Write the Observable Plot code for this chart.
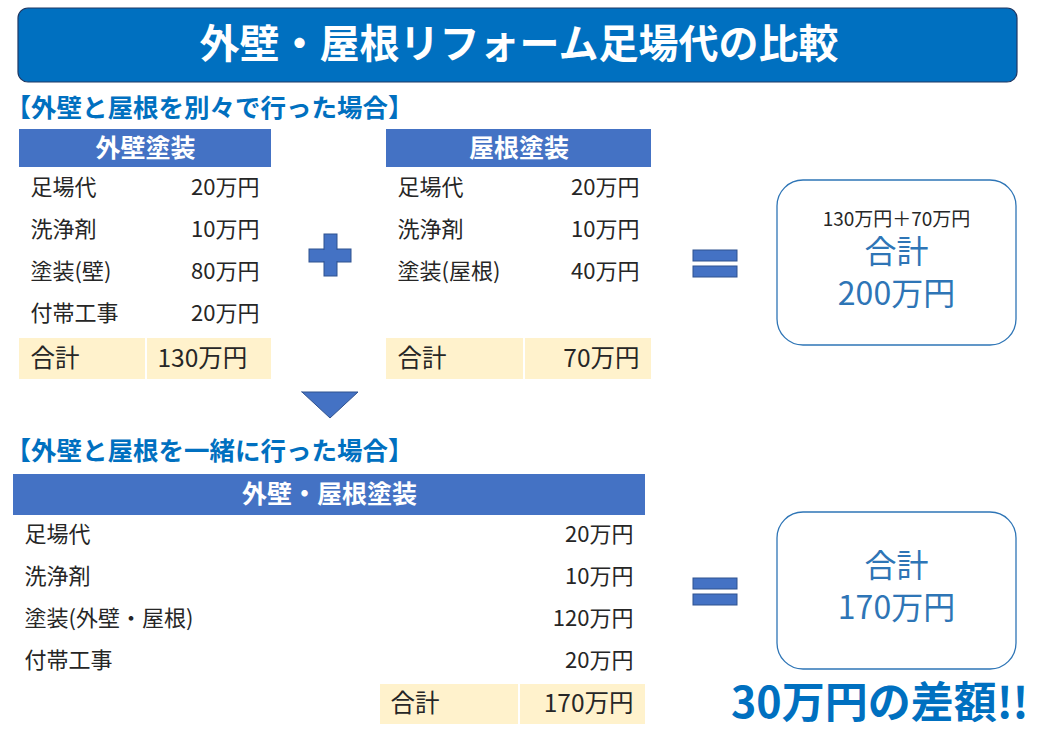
<!DOCTYPE html>
<html><head><meta charset="utf-8">
<script src="https://cdn.jsdelivr.net/npm/d3@7"></script>
<script src="https://cdn.jsdelivr.net/npm/@observablehq/plot@0.6"></script>
<style>html,body{margin:0;padding:0;background:#fff;} svg{display:block;}</style>
</head><body><div id="chart"></div>
<script>
// ---- content ----
const chartTitle = "外壁・屋根リフォーム足場代の比較";
const sectionLabels = ["【外壁と屋根を別々で行った場合】", "【外壁と屋根を一緒に行った場合】"];
const tableTitles = ["外壁塗装", "屋根塗装", "外壁・屋根塗装"];
const wallItems = ["足場代", "洗浄剤", "塗装(壁)", "付帯工事"];
const wallCosts = [20, 10, 80, 20];
const roofItems = ["足場代", "洗浄剤", "塗装(屋根)"];
const roofCosts = [20, 10, 40];
const bothItems = ["足場代", "洗浄剤", "塗装(外壁・屋根)", "付帯工事"];
const bothCosts = [20, 10, 120, 20];
const unit = "万円";
const totalLabel = "合計";
const diffSuffix = "の差額!!";

// ---- layout (pixels) ----
const W = 1037, H = 738;
const FONT = "'Noto Sans CJK JP', 'Noto Sans', sans-serif";
const BLUE = "#0070C0", HEAD = "#4472C4", EDGE = "#2F528F", CREAM = "#FFF2CC", INK = "#262626", BOXBLUE = "#2E75B6";
const rowStep = 42;
const tables = [
  {title: tableTitles[0], items: wallItems, costs: wallCosts, x1: 19, x2: 271, hy1: 129, hy2: 167, labelX: 30, valueX: 259, rowY0: 187,
   tx1: 19, split: 146, ty1: 338, ty2: 379, tLabelX: 30, tValueX: 157, tAnchor: "start"},
  {title: tableTitles[1], items: roofItems, costs: roofCosts, x1: 386, x2: 651, hy1: 129, hy2: 167, labelX: 397, valueX: 639, rowY0: 187,
   tx1: 386, split: 524, ty1: 338, ty2: 379, tLabelX: 397, tValueX: 639, tAnchor: "end"},
  {title: tableTitles[2], items: bothItems, costs: bothCosts, x1: 13, x2: 645, hy1: 474, hy2: 515, labelX: 24, valueX: 633, rowY0: 534,
   tx1: 380, split: 519, ty1: 684, ty2: 724, tLabelX: 390, tValueX: 633, tAnchor: "end"}
];
const sumWall = d3.sum(wallCosts), sumRoof = d3.sum(roofCosts), sumBoth = d3.sum(bothCosts);
const sumSeparate = sumWall + sumRoof;
const yen = v => v + unit;

// rectangles
const plainRects = [
  ...tables.map(t => ({x1: t.x1, x2: t.x2, y1: t.hy1, y2: t.hy2, fill: HEAD})),
  ...tables.flatMap(t => [
    {x1: t.tx1, x2: t.split - 1, y1: t.ty1, y2: t.ty2, fill: CREAM},
    {x1: t.split + 1, x2: t.x2, y1: t.ty1, y2: t.ty2, fill: CREAM}
  ])
];
const shapes = [
  // plus
  {x1: 309, x2: 351, y1: 249, y2: 262}, {x1: 324, x2: 337, y1: 234, y2: 276},
  // equals (two)
  {x1: 693, x2: 737, y1: 250, y2: 261}, {x1: 693, x2: 737, y1: 266, y2: 277},
  {x1: 693, x2: 737, y1: 578, y2: 589}, {x1: 693, x2: 737, y1: 594, y2: 605}
];
const plusJoin = [{x1: 310, x2: 350, y1: 250, y2: 261}];
const banner = [{x1: 18, x2: 1017, y1: 8, y2: 82}];
const boxes = [{x1: 777, x2: 1016, y1: 180, y2: 345}, {x1: 777, x2: 1016, y1: 512, y2: 669}];
const triangle = [{x: 302, top: 392, bot: 392}, {x: 330, top: 392, bot: 418}, {x: 358, top: 392, bot: 392}];

// text rows
const rowLabels = tables.flatMap(t => t.items.map((name, i) => ({x: t.labelX, y: t.rowY0 + i * rowStep, text: name})));
const rowValues = tables.flatMap(t => t.costs.map((c, i) => ({x: t.valueX, y: t.rowY0 + i * rowStep, text: yen(c)})));
const totals = [sumWall, sumRoof, sumBoth];
const totalLabels = tables.map(t => ({x: t.tLabelX, y: (t.ty1 + t.ty2) / 2, text: totalLabel}));
const totalValues = tables.map((t, i) => ({x: t.tValueX, y: (t.ty1 + t.ty2) / 2, text: yen(totals[i]), anchor: t.tAnchor}));
const headTexts = tables.map(t => ({x: (t.x1 + t.x2) / 2, y: (t.hy1 + t.hy2) / 2, text: t.title}));

const boxSmall = [{x: 896, y: 219, text: `${yen(sumWall)}＋${yen(sumRoof)}`}];
const boxBig = [
  {x: 896, y: 270, text: `${totalLabel}\n${yen(sumSeparate)}`},
  {x: 896, y: 584, text: `${totalLabel}\n${yen(sumBoth)}`}
];

const common = {fontFamily: FONT, lineAnchor: "middle"};

const plot = Plot.plot({
  width: W, height: H,
  margin: 0,
  x: {domain: [0, W], range: [0, W], axis: null},
  y: {domain: [0, H], range: [0, H], axis: null},
  color: {type: "identity"},
  style: {fontFamily: FONT, background: "#fff"},
  marks: [
    Plot.rect(banner, {x1: "x1", x2: "x2", y1: "y1", y2: "y2", rx: 10, fill: BLUE, stroke: "#1F3864", strokeWidth: 1.2}),
    Plot.text([{x: W / 2, y: 45, text: chartTitle}], {...common, x: "x", y: "y", text: "text", fill: "white", fontSize: 40, fontWeight: "bold", textAnchor: "middle"}),
    Plot.text(sectionLabels.map((s, i) => ({x: 5, y: [108, 451][i], text: s})), {...common, x: "x", y: "y", text: "text", fill: BLUE, fontSize: 25.5, fontWeight: "bold", textAnchor: "start"}),
    Plot.rect(plainRects, {x1: "x1", x2: "x2", y1: "y1", y2: "y2", fill: "fill"}),
    Plot.text(headTexts, {...common, x: "x", y: "y", text: "text", fill: "white", fontSize: 25, fontWeight: "bold", textAnchor: "middle"}),
    Plot.text(rowLabels, {...common, x: "x", y: "y", text: "text", fill: INK, fontSize: 22, textAnchor: "start"}),
    Plot.text(rowValues, {...common, x: "x", y: "y", text: "text", fill: INK, fontSize: 22, textAnchor: "end"}),
    Plot.text(totalLabels, {...common, x: "x", y: "y", text: "text", fill: INK, fontSize: 24.5, textAnchor: "start"}),
    Plot.text(totalValues.filter(d => d.anchor === "start"), {...common, x: "x", y: "y", text: "text", fill: INK, fontSize: 24.5, textAnchor: "start"}),
    Plot.text(totalValues.filter(d => d.anchor === "end"), {...common, x: "x", y: "y", text: "text", fill: INK, fontSize: 24.5, textAnchor: "end"}),
    Plot.rect(shapes, {x1: "x1", x2: "x2", y1: "y1", y2: "y2", fill: HEAD, stroke: EDGE, strokeWidth: 1}),
    Plot.rect(plusJoin, {x1: "x1", x2: "x2", y1: "y1", y2: "y2", fill: HEAD}),
    Plot.area(triangle, {x1: "x", y1: "top", y2: "bot", fill: HEAD, stroke: EDGE, strokeWidth: 1}),
    Plot.rect(boxes, {x1: "x1", x2: "x2", y1: "y1", y2: "y2", rx: 26, fill: "white", stroke: BOXBLUE, strokeWidth: 1.3}),
    Plot.text(boxSmall, {...common, x: "x", y: "y", text: "text", fill: INK, fontSize: 19, textAnchor: "middle"}),
    Plot.text(boxBig, {...common, x: "x", y: "y", text: "text", fill: BOXBLUE, fontSize: 32, lineHeight: 1.3, textAnchor: "middle"}),
    Plot.text([{x: 1028, y: 704, text: yen(sumSeparate - sumBoth) + diffSuffix}], {...common, x: "x", y: "y", text: "text", fill: BLUE, fontSize: 43, fontWeight: "bold", textAnchor: "end"})
  ]
});
document.getElementById("chart").appendChild(plot);
</script>
</body></html>
